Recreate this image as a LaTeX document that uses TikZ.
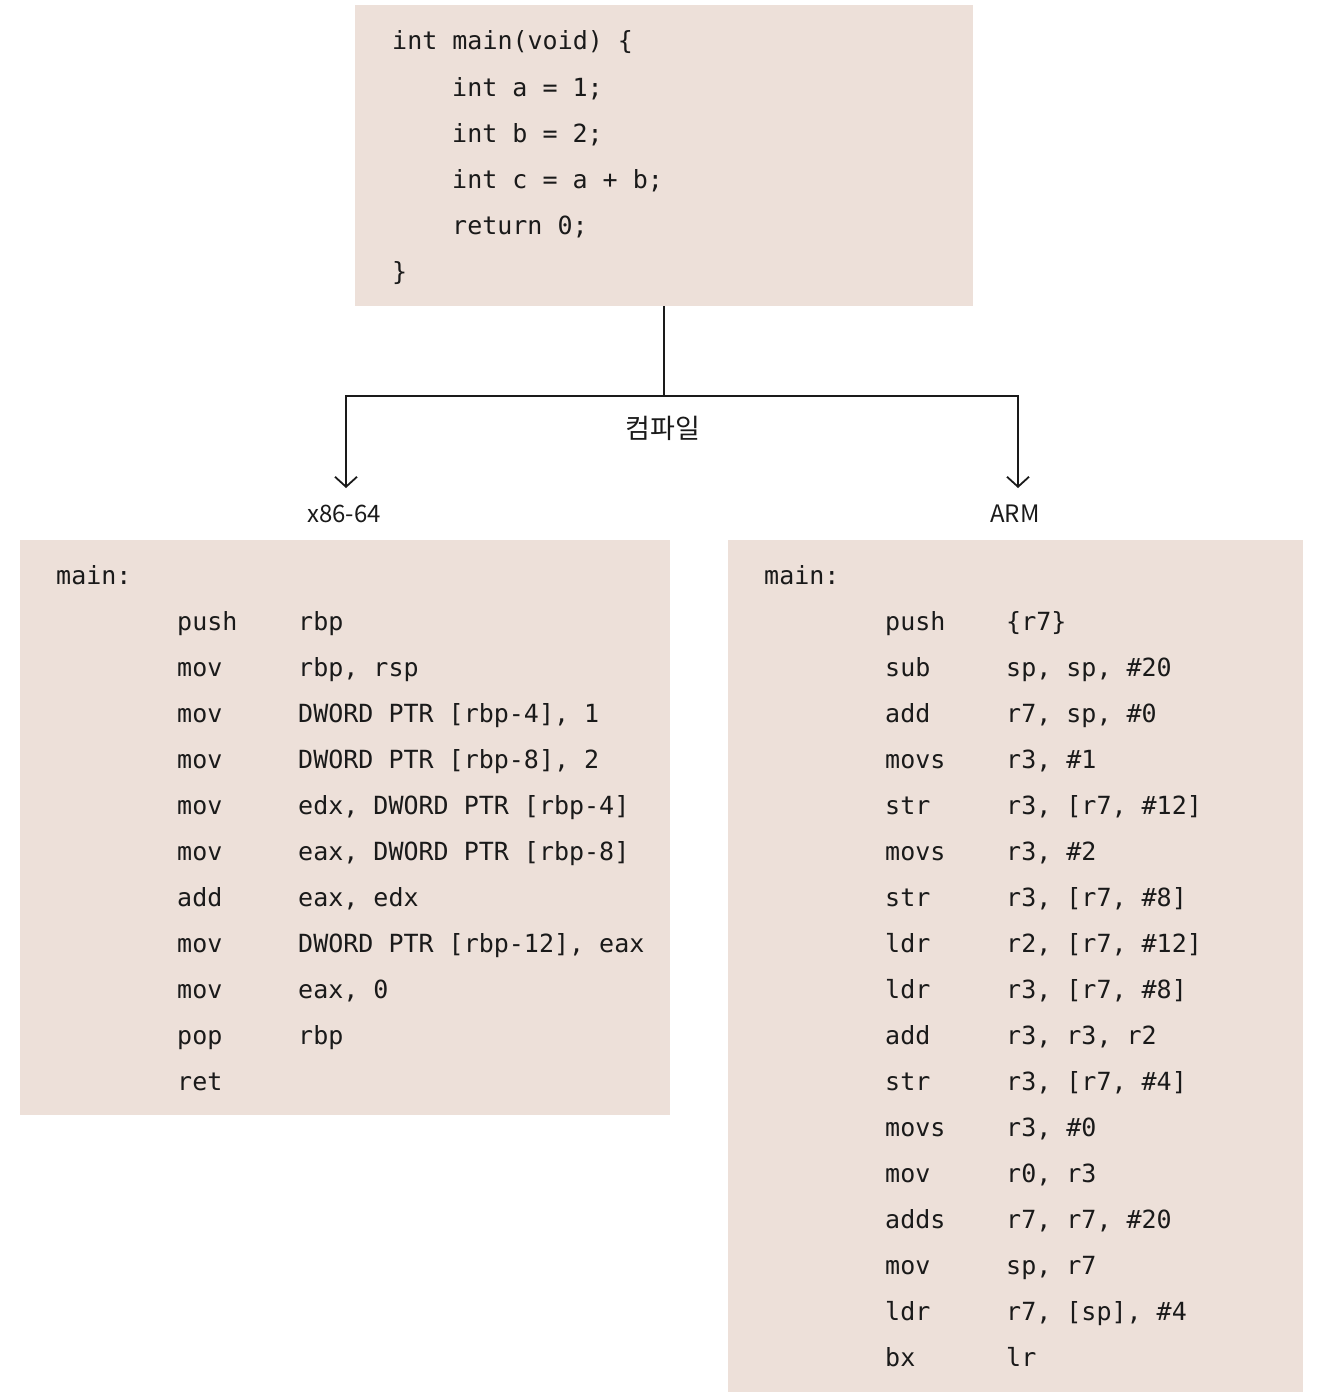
\documentclass[tikz,border=0pt]{standalone}
\usepackage{fontspec}
\setmonofont{DejaVu Sans Mono}
\newfontfamily\krfont{Noto Sans CJK KR}
\usetikzlibrary{arrows.meta}
\definecolor{boxfill}{RGB}{237,224,217}
\definecolor{ink}{RGB}{26,26,26}
\begin{document}
\begin{tikzpicture}[x=1pt,y=-1pt,
  box/.style={fill=boxfill, draw=none, inner sep=0pt, anchor=north west},
  code/.style={anchor=base west, inner sep=0pt, font=\fontsize{25}{30}\selectfont\ttfamily, text=ink},
  lbl/.style={font=\fontsize{24}{28}\selectfont\krfont, text=ink, inner sep=0pt},
  conn/.style={draw=ink, line width=1.8pt},
  tip/.style={-{Straight Barb[length=10pt,width=22pt,line width=1.8pt]}}]
\useasboundingbox (0,0) rectangle (1317,1397);
% boxes
\node[box, minimum width=618pt, minimum height=301pt] (src) at (355,5) {};
\node[box, minimum width=650pt, minimum height=575pt] (x86) at (20,540) {};
\node[box, minimum width=575pt, minimum height=852pt] (arm) at (728,540) {};
% source code
\node[code] (s1) at (392,49) {int main(void) \{};
\node[code] (s2) at (452,96) {int a = 1;};
\node[code] (s3) at (452,142) {int b = 2;};
\node[code] (s4) at (452,188) {int c = a + b;};
\node[code] (s5) at (452,234) {return 0;};
\node[code] (s6) at (392,280) {\}};
% x86-64
\node[code] (xmain) at (56,584) {main:};
\foreach \m/\o [count=\i] in {push/rbp, mov/{rbp, rsp}, mov/{DWORD PTR [rbp-4], 1}, mov/{DWORD PTR [rbp-8], 2}, mov/{edx, DWORD PTR [rbp-4]}, mov/{eax, DWORD PTR [rbp-8]}, add/{eax, edx}, mov/{DWORD PTR [rbp-12], eax}, mov/{eax, 0}, pop/rbp, ret/{}}{
  \node[code] (xm\i) at (177,584+46*\i) {\m};
  \node[code] (xo\i) at (298,584+46*\i) {\o};
}
% ARM
\node[code] (amain) at (764,584) {main:};
\foreach \m/\o [count=\i] in {push/\{r7\}, sub/{sp, sp, \#20}, add/{r7, sp, \#0}, movs/{r3, \#1}, str/{r3, [r7, \#12]}, movs/{r3, \#2}, str/{r3, [r7, \#8]}, ldr/{r2, [r7, \#12]}, ldr/{r3, [r7, \#8]}, add/{r3, r3, r2}, str/{r3, [r7, \#4]}, movs/{r3, \#0}, mov/{r0, r3}, adds/{r7, r7, \#20}, mov/{sp, r7}, ldr/{r7, [sp], \#4}, bx/lr}{
  \node[code] (am\i) at (885,584+46*\i) {\m};
  \node[code] (ao\i) at (1006,584+46*\i) {\o};
}
% labels
\node[lbl, font=\fontsize{27}{30}\selectfont\krfont] (comp) at (663,428) {컴파일};
\node[lbl] (lx) at (344,514) {x86-64};
\node[lbl] (la) at (1015,514) {ARM};
% connectors
\coordinate (j) at (src.south |- 0,396);
\coordinate (tl) at (346,488);
\coordinate (tr) at (1018,488);
\draw[conn] (src.south) -- (j);
\draw[conn, tip] (j) -| (tl);
\draw[conn, tip] (j) -| (tr);
\end{tikzpicture}
\end{document}
